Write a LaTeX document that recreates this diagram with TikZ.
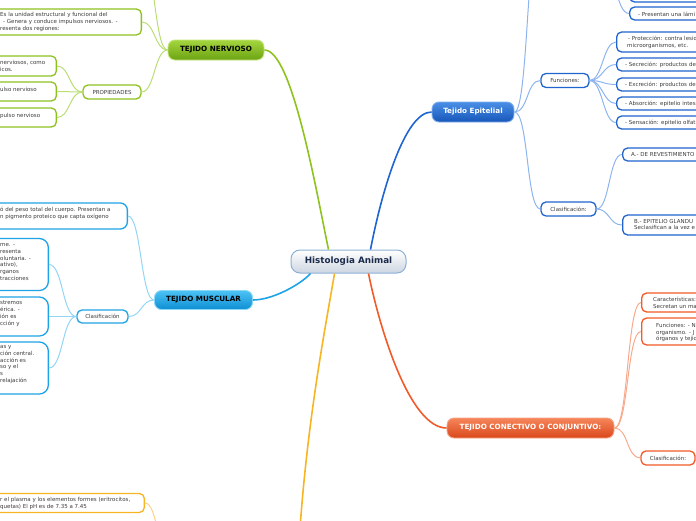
\documentclass[tikz,border=0pt]{standalone}
\usepackage{fontspec}
\setmainfont{DejaVu Sans}
\definecolor{txt}{HTML}{3C3C3C}
\definecolor{gN}{HTML}{8DC21F}
\definecolor{gNl}{HTML}{BADD74}
\definecolor{bM}{HTML}{1EA3E6}
\definecolor{bMl}{HTML}{93D5F5}
\definecolor{bE}{HTML}{1F64CF}
\definecolor{bEl}{HTML}{8DB4EE}
\definecolor{oC}{HTML}{F15A29}
\definecolor{oCl}{HTML}{F8A98C}
\definecolor{yS}{HTML}{F8B523}
\definecolor{ySl}{HTML}{FAD487}
\tikzset{
  lbox/.style={draw, fill=white, line width=1.3pt, rounded corners=5pt, inner sep=0pt, minimum width=240pt},
  ltx/.style={font=\fontsize{5.5}{6.9}\selectfont, text=txt, align=left, inner sep=0pt, anchor=west},
  subnode/.style={draw, fill=white, line width=1.3pt, rounded corners=5pt, inner sep=0pt, font=\fontsize{5.5}{6.9}\selectfont, text=txt},
  topic/.style={rounded corners=7pt, inner sep=0pt, line width=0.9pt, font=\fontsize{7.2}{8}\selectfont\bfseries},
  conn/.style={line width=1pt},
  mconn/.style={line width=1.6pt},
}
\begin{document}
\begin{tikzpicture}[x=1pt,y=-1pt]
\useasboundingbox (0,0) rectangle (696,520);
\clip (0,0) rectangle (696,520);

% ---------- central and topic nodes
\node[rounded corners=9pt, inner sep=0pt, line width=1pt, draw={rgb,255:red,140;green,176;blue,214},
      top color=white, bottom color={rgb,255:red,205;green,214;blue,225},
      minimum width=115pt, minimum height=23pt, font=\fontsize{8.8}{10}\selectfont\bfseries,
      text={rgb,255:red,27;green,43;blue,75}] (cen) at (348.5,261.5) {Histologia Animal};

\node[topic, draw={rgb,255:red,196;green,229;blue,126}, top color={rgb,255:red,165;green,214;blue,63},
      bottom color={rgb,255:red,107;green,163;blue,18}, minimum width=96pt, minimum height=20pt] (nv) at (216,50) {TEJIDO NERVIOSO};
\node[topic, draw={rgb,255:red,142;green,216;blue,247}, top color={rgb,255:red,76;green,195;blue,245},
      bottom color={rgb,255:red,14;green,142;blue,211}, minimum width=98pt, minimum height=19pt] (mu) at (203.5,300) {TEJIDO MUSCULAR};
\node[topic, draw={rgb,255:red,127;green,173;blue,235}, top color={rgb,255:red,74;green,143;blue,230},
      bottom color={rgb,255:red,22;green,86;blue,185}, text=white, minimum width=82pt, minimum height=20pt] (ep) at (473,112) {Tejido Epitelial};
\node[topic, draw={rgb,255:red,247;green,165;blue,133}, top color={rgb,255:red,246;green,134;blue,90},
      bottom color={rgb,255:red,217;green,71;blue,27}, text=white, minimum width=167pt, minimum height=20pt] (co) at (530.5,428) {TEJIDO CONECTIVO O CONJUNTIVO:};

% ---------- off-canvas anchors
\coordinate (nvtop) at (142,-40);
\coordinate (eptop) at (541,-80);
\coordinate (ep0p) at (601,-40);
\coordinate (sgMain) at (298,560);
\coordinate (sgP) at (171,560);

% ---------- main connectors
\draw[mconn,gN] ([xshift=-20pt]cen.north) .. controls (316,190) and (292,50) .. (nv.east);
\draw[mconn,bE] ([xshift=22pt]cen.north) .. controls (382,190) and (405,112) .. (ep.west);
\draw[mconn,bM] ([xshift=-38pt]cen.south) .. controls (300,285) and (272,300) .. (mu.east);
\draw[mconn,oC] ([xshift=20pt]cen.south) .. controls (380,330) and (410,428) .. (co.west);
\draw[mconn,yS] ([xshift=-14pt]cen.south) .. controls (325,330) and (305,430) .. (sgMain);

% ---------- TEJIDO NERVIOSO branch
\node[lbox, draw=gN, anchor=east, minimum height=26pt] (nv1) at (142,22) {};
\node[ltx] (nv1t) at (0,22) {Es la unidad estructural y funcional del\\\hspace*{3pt}- Genera y conduce impulsos nerviosos. -\\resenta dos regiones:};
\node[subnode, draw=gN, minimum width=58pt, minimum height=14pt] (pr) at (112,92) {PROPIEDADES};
\node[lbox, draw=gN, anchor=east, minimum height=20pt] (nv2) at (57,66) {};
\node[ltx] (nv2t) at (0,66) {nerviosos, como\\icos.};
\node[lbox, draw=gN, anchor=east, minimum height=19pt] (nv3) at (57,91.5) {};
\node[ltx] (nv3t) at (0,89.5) {ulso nervioso};
\node[lbox, draw=gN, anchor=east, minimum height=19pt] (nv4) at (57,117.5) {};
\node[ltx] (nv4t) at (0,115.5) {pulso nervioso};

\draw[conn,gNl] (nv.west) .. controls +(-13,0) and +(13,0) .. (nvtop);
\draw[conn,gNl] (nv.west) .. controls +(-13,0) and +(13,0) .. (nv1.east);
\draw[conn,gNl] (nv.west) .. controls +(-13,0) and +(13,0) .. (pr.east);
\draw[conn,gNl] (pr.west) .. controls +(-13,0) and +(13,0) .. (nv2.east);
\draw[conn,gNl] (pr.west) .. controls +(-13,0) and +(13,0) .. (nv3.east);
\draw[conn,gNl] (pr.west) .. controls +(-13,0) and +(13,0) .. (nv4.east);

% ---------- TEJIDO MUSCULAR branch
\node[lbox, draw=bM, anchor=east, minimum height=26pt, rounded corners=7pt] (mu1) at (128,216) {};
\node[ltx] (mu1t) at (0,213.5) {ó del peso total del cuerpo. Presentan a\\n pigmento proteico que capta oxígeno};
\node[subnode, draw=bM, minimum width=51pt, minimum height=13pt] (mcl) at (102.5,316.5) {Clasificación};
\node[lbox, draw=bM, anchor=east, minimum height=52pt, rounded corners=9pt] (mu2) at (49,264.5) {};
\node[ltx] (mu2t) at (0,262) {me. -\\resenta\\oluntaria. -\\ativo),\\rganos\\tracciones};
\node[lbox, draw=bM, anchor=east, minimum height=39pt, rounded corners=9pt] (mu3) at (49,316.5) {};
\node[ltx] (mu3t) at (0,313.5) {stremos\\érica. -\\ión es\\cción y};
\node[lbox, draw=bM, anchor=east, minimum height=52pt, rounded corners=9pt] (mu4) at (49,368) {};
\node[ltx] (mu4t) at (0,364.5) {as y\\ción central.\\acción es\\so y el\\s\\relajación};

\draw[conn,bMl] (mu.west) .. controls +(-13,0) and +(13,0) .. (mu1.east);
\draw[conn,bMl] (mu.west) .. controls +(-13,0) and +(13,0) .. (mcl.east);
\draw[conn,bMl] (mcl.west) .. controls +(-14,0) and +(14,0) .. (mu2.east);
\draw[conn,bMl] (mcl.west) .. controls +(-14,0) and +(14,0) .. (mu3.east);
\draw[conn,bMl] (mcl.west) .. controls +(-14,0) and +(14,0) .. (mu4.east);

% ---------- bottom (yellow) branch
\node[lbox, draw=yS, anchor=east, minimum height=19pt] (sg1) at (145,503) {};
\node[ltx] (sg1t) at (0,503.5) {r el plasma y los elementos formes (eritrocitos,\\quetas) El pH es de 7.35 a 7.45};
\draw[conn,ySl] (sgP) .. controls (158,560) and (158,503) .. (sg1.east);

% ---------- Tejido Epitelial branch
\node[subnode, draw=bE, minimum width=48pt, minimum height=14pt] (fun) at (565,80.5) {Funciones:};
\node[subnode, draw=bE, minimum width=55pt, minimum height=14pt] (ecl) at (568.5,209) {Clasificación:};
\node[lbox, draw=bE, anchor=west, minimum height=22pt] (ep0) at (629,-9) {};
\node[lbox, draw=bE, anchor=west, minimum height=13pt] (ep1) at (629,13.5) {};
\node[ltx] (ep1t) at (638,14) {- Presentan una lámi};
\node[lbox, draw=bE, anchor=west, minimum height=20pt] (f1) at (616,42) {};
\node[ltx] (f1t) at (627,42) {\hspace*{1pt}- Protección: contra lesio\\microorganismos, etc.};
\node[lbox, draw=bE, anchor=west, minimum height=13pt] (f2) at (616,64.5) {};
\node[ltx] (f2t) at (625,64.5) {- Secreción: productos de};
\node[lbox, draw=bE, anchor=west, minimum height=13pt] (f3) at (616,84.5) {};
\node[ltx] (f3t) at (625,84.5) {- Excreción: productos de};
\node[lbox, draw=bE, anchor=west, minimum height=13pt] (f4) at (616,103.5) {};
\node[ltx] (f4t) at (625,103.5) {- Absorción: epitelio intes};
\node[lbox, draw=bE, anchor=west, minimum height=13pt] (f5) at (616,122.5) {};
\node[ltx] (f5t) at (625,122.5) {- Sensación: epitelio olfat};
\node[lbox, draw=bE, anchor=west, minimum height=13pt] (eA) at (622,154.5) {};
\node[ltx] (eAt) at (631,154.5) {A.- DE REVESTIMIENTO};
\node[lbox, draw=bE, anchor=west, minimum height=20pt] (eB) at (622,225) {};
\node[ltx] (eBt) at (634,224.5) {B.- EPITELIO GLANDU\\Seclasifican a la vez e};

\draw[conn,bEl] (ep.east) .. controls +(14,0) and +(-14,0) .. (eptop);
\draw[conn,bEl] (ep.east) .. controls +(14,0) and +(-14,0) .. (fun.west);
\draw[conn,bEl] (ep.east) .. controls +(14,0) and +(-14,0) .. (ecl.west);
\draw[conn,bEl] (ep0p) .. controls +(14,0) and +(-14,0) .. (ep0.west);
\draw[conn,bEl] (ep0p) .. controls +(14,0) and +(-14,0) .. (ep1.west);
\foreach \f in {f1,f2,f3,f4,f5}
  \draw[conn,bEl] (fun.east) .. controls +(13,0) and +(-13,0) .. (\f.west);
\draw[conn,bEl] (ecl.east) .. controls +(13,0) and +(-13,0) .. (eA.west);
\draw[conn,bEl] (ecl.east) .. controls +(13,0) and +(-13,0) .. (eB.west);

% ---------- Tejido Conectivo branch
\node[lbox, draw=oC, anchor=west, minimum height=19pt] (c1) at (641,302.5) {};
\node[ltx] (c1t) at (653,303) {Características:\\Secretan un ma};
\node[lbox, draw=oC, anchor=west, minimum height=27pt] (c2) at (641,331.5) {};
\node[ltx] (c2t) at (656,332.5) {Funciones: - N\\organismo. - J\\órganos y tejid};
\node[subnode, draw=oC, minimum width=54pt, minimum height=14pt] (c3) at (668,458) {Clasificación:};

\draw[conn,oCl] (co.east) .. controls +(14,0) and +(-14,0) .. (c1.west);
\draw[conn,oCl] (co.east) .. controls +(14,0) and +(-14,0) .. (c2.west);
\draw[conn,oCl] (co.east) .. controls +(14,0) and +(-14,0) .. (c3.west);
\end{tikzpicture}
\end{document}
